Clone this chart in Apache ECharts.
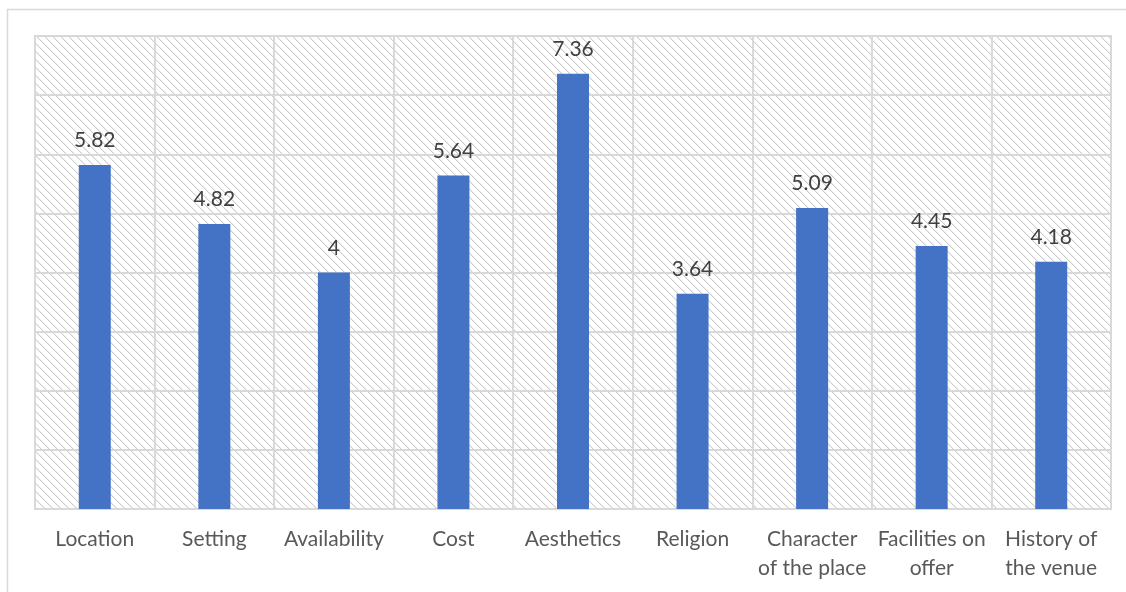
<!DOCTYPE html>
<html><head><meta charset="utf-8">
<script src="https://cdn.jsdelivr.net/npm/echarts@6/dist/echarts.min.js"></script>
<style>html,body{margin:0;padding:0;background:#fff}#c{width:1126px;height:592px}</style>
</head><body><div id="c"></div>
<script>
const categories = ['Location','Setting','Availability','Cost','Aesthetics','Religion','Character\nof the place','Facilities on\noffer','History of\nthe venue'];
const values = [5.82, 4.82, 4, 5.64, 7.36, 3.64, 5.09, 4.45, 4.18];

const tile = document.createElement('canvas');
tile.width = 8; tile.height = 8;
const g = tile.getContext('2d');
g.fillStyle = '#ffffff'; g.fillRect(0,0,8,8);
for (let i = 0; i < 8; i++) {
  g.fillStyle = '#cdcdcd'; g.fillRect(i, i, 1, 1);
  g.fillStyle = '#eeeeee'; g.fillRect((i+1)%8, i, 1, 1);
}

const chart = echarts.init(document.getElementById('c'));
chart.setOption({
  animation: false,
  backgroundColor: '#ffffff',
  textStyle: { fontFamily: 'Lato' },
  graphic: [{
    type: 'rect', left: 5, top: 7, shape: { width: 1140, height: 600 },
    style: { fill: 'none', stroke: '#d9d9d9', lineWidth: 1.5 }, silent: true, z: -1
  }],
  grid: {
    left: 35, right: 15, top: 36, bottom: 83, outerBoundsMode: 'none',
    show: true, backgroundColor: { image: tile, repeat: 'repeat' },
    borderColor: '#d9d9d9', borderWidth: 2
  },
  xAxis: {
    type: 'category', data: categories,
    axisLine: { show: true, lineStyle: { color: '#d9d9d9', width: 2 } },
    axisTick: { show: false },
    splitLine: { show: true, lineStyle: { color: '#d9d9d9', width: 2 } },
    axisLabel: { color: '#595959', fontSize: 21, lineHeight: 29, margin: 16, interval: 0 }
  },
  yAxis: {
    type: 'value', min: 0, max: 8, interval: 1,
    axisLabel: { show: false }, axisLine: { show: false }, axisTick: { show: false },
    splitLine: { show: true, lineStyle: { color: '#d9d9d9', width: 2 } }
  },
  series: [{
    type: 'bar', data: values, barWidth: 32,
    itemStyle: { color: '#4472c4' },
    label: { show: true, position: 'top', distance: 14, color: '#404040', fontSize: 21 }
  }]
});
</script></body></html>
